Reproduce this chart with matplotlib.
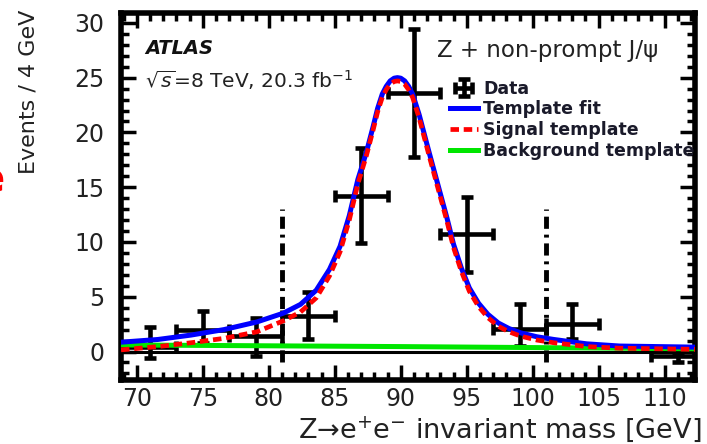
import matplotlib
matplotlib.use("Agg")
import matplotlib.pyplot as plt
from matplotlib.ticker import MultipleLocator

plt.rcParams["font.family"] = ["DejaVu Sans"]
plt.rcParams["mathtext.fontset"] = "dejavusans"

# Data points (4 GeV bins)
data_x = [71, 75, 79, 83, 87, 91, 95, 99, 103, 111]
data_y = [0.4, 2.0, 1.4, 3.2, 14.2, 23.6, 10.7, 2.1, 2.5, -0.4]
data_err_up = [1.8, 1.7, 1.7, 2.2, 4.4, 5.8, 3.4, 2.2, 1.8, 0.3]
data_err_dn = [1.0, 1.2, 1.8, 2.1, 4.3, 5.8, 3.4, 1.6, 1.4, 0.6]
bin_half_width = 2.0

# Template fit (signal + background)
fit_x = [68.8, 71.6, 74.1, 76.6, 79.1, 81.1, 82.4, 83.6, 84.6, 85.4, 86.1, 86.75,
         87.4, 87.9, 88.25, 88.6, 88.9, 89.2, 89.5, 89.75, 90.0, 90.3, 90.6,
         90.9, 91.4, 92.1, 92.8, 93.5, 94.0, 94.6, 95.2, 95.9, 96.6, 97.4,
         98.2, 99.1, 100.3, 101.6, 104.1, 106.6, 109.5, 112.3]
fit_y = [0.85, 1.1, 1.5, 2.0, 2.7, 3.5, 4.3, 5.6, 7.5, 9.6, 12.4, 15.7,
         18.2, 20.5, 22.2, 23.5, 24.2, 24.7, 24.95, 25.0, 24.95, 24.7, 24.2,
         23.5, 21.6, 18.4, 15.3, 12.2, 9.8, 7.6, 5.8, 4.4, 3.4, 2.6,
         2.1, 1.7, 1.35, 1.1, 0.7, 0.5, 0.45, 0.4]

# Signal template
sig_x = fit_x
sig_y = [0.15, 0.45, 0.8, 1.2, 1.8, 2.8, 3.6, 4.9, 6.9, 9.1, 12.0, 15.3,
         17.9, 20.2, 21.9, 23.2, 23.9, 24.4, 24.65, 24.7, 24.65, 24.4, 23.9,
         23.2, 21.3, 18.1, 15.0, 11.9, 9.5, 7.3, 5.5, 4.1, 3.1, 2.3,
         1.8, 1.4, 1.05, 0.8, 0.45, 0.3, 0.25, 0.2]

# Background template
bkg_x = [68.8, 90.0, 112.3]
bkg_y = [0.6, 0.45, 0.25]

# Mass window boundaries
window_x = [81, 101]
window_y = [-1.0, 13.0]

fig = plt.figure(figsize=(7.07, 4.44), dpi=100)
ax = fig.add_axes([121 / 707, 1 - 380 / 444, 574 / 707, 367 / 444])

ax.set_xlim(68.8, 112.3)
ax.set_ylim(-2.6, 30.9)

ax.axhline(0, color="black", lw=2.2, zorder=1)

for wx in window_x:
    ax.plot([wx, wx], window_y, color="black", lw=3.5,
            linestyle=(0, (2.5, 1.2, 0.6, 1.2)), zorder=1)

data = ax.errorbar(data_x, data_y, yerr=[data_err_dn, data_err_up],
                   xerr=bin_half_width, fmt="none", ecolor="black",
                   elinewidth=3.3, capsize=4, capthick=3.3, zorder=2,
                   label="Data")

bkg_line, = ax.plot(bkg_x, bkg_y, color="#00e600", lw=3.6, zorder=3,
                    label="Background template")
fit_line, = ax.plot(fit_x, fit_y, color="#0000ff", lw=3.6, zorder=4,
                    solid_joinstyle="round", label="Template fit")
sig_line, = ax.plot(sig_x, sig_y, color="#ff0000", lw=3.4, zorder=5,
                    linestyle=(0, (1.8, 1.0)), label="Signal template")

for side in ax.spines.values():
    side.set_linewidth(4)

ax.xaxis.set_major_locator(MultipleLocator(5))
ax.xaxis.set_minor_locator(MultipleLocator(1))
ax.yaxis.set_major_locator(MultipleLocator(5))
ax.yaxis.set_minor_locator(MultipleLocator(1))
ax.tick_params(which="both", direction="in", top=True, right=True,
               width=2.5, colors="black")
ax.tick_params(which="major", length=11)
ax.tick_params(which="minor", length=5.5)
ax.tick_params(axis="x", which="major", labelsize=17, pad=5,
               labelcolor="#222222")
ax.tick_params(axis="y", which="major", labelsize=17, pad=12,
               labelcolor="#222222")

leg = ax.legend([data, fit_line, sig_line, bkg_line],
                ["Data", "Template fit", "Signal template", "Background template"],
                loc="upper left", bbox_to_anchor=(0.573, 0.818),
                frameon=False, borderpad=0, borderaxespad=0,
                handlelength=1.6, handletextpad=0.3, labelspacing=0.15,
                prop={"weight": "bold", "size": 12.5})
for t in leg.get_texts():
    t.set_color("#1a1a2a")

fig.text(145 / 707, 1 - 48 / 444, "ATLAS", fontsize=14, fontweight="bold",
         fontstyle="italic", ha="left", va="center", color="#111111")
fig.text(145 / 707, 1 - 80 / 444, r"$\sqrt{s}$=8 TeV, 20.3 fb$^{-1}$",
         fontsize=14.5, ha="left", va="center", color="#222222")
fig.text(437 / 707, 1 - 50 / 444, "Z + non-prompt J/ψ", fontsize=16.5,
         ha="left", va="center", color="#222222")

fig.text(29 / 707, 1 - 10 / 444, "Events / 4 GeV", fontsize=16, rotation=90,
         ha="center", va="top", color="#222222")
fig.text(701 / 707, 1 - 429 / 444,
         r"Z→e$^{+}$e$^{-}$ invariant mass [GeV]",
         fontsize=19.5, ha="right", va="center", color="#222222")

fig.text(5 / 707, 1 - 180 / 444, "e", fontsize=30, fontweight="bold",
         color="red", ha="right", va="center")

fig.savefig("out.png", dpi=100)
